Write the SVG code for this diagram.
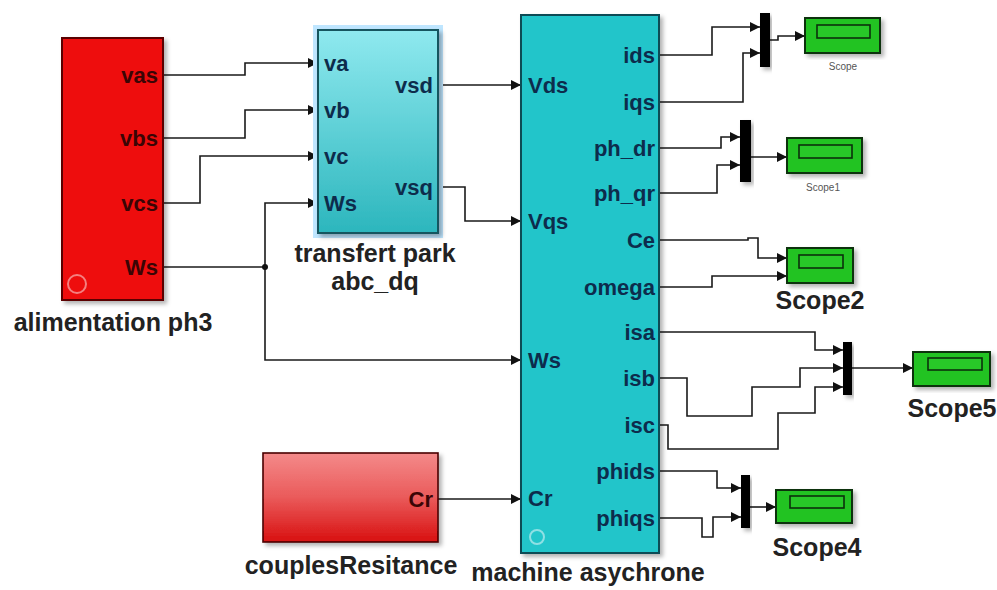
<svg xmlns="http://www.w3.org/2000/svg" width="997" height="590" viewBox="0 0 997 590">
<defs>
<style>
.w{fill:none;stroke:#1a1a1a;stroke-width:1.6;marker-end:url(#ar)}
.wn{fill:none;stroke:#1a1a1a;stroke-width:1.6}
.pl{font-family:"Liberation Sans",Arial,sans-serif;font-weight:bold;font-size:22px;fill:#0d2c4c}
.rl{font-family:"Liberation Sans",Arial,sans-serif;font-weight:bold;font-size:22px;fill:#3a0505}
.bl{font-family:"Liberation Sans",Arial,sans-serif;font-weight:bold;font-size:25px;fill:#222;text-anchor:middle}
.sl{font-family:"Liberation Sans",Arial,sans-serif;font-size:10px;fill:#555;text-anchor:middle}
.scope{fill:#22c322;stroke:#0c300c;stroke-width:2}
.scin{fill:#28c828;stroke:#0c300c;stroke-width:1.6}
.mux{fill:#000}
</style>
<marker id="ar" viewBox="0 0 10 10" refX="10" refY="5" markerWidth="10" markerHeight="10" markerUnits="userSpaceOnUse" orient="auto">
<path d="M0,0 L10,5 L0,10 z" fill="#111"/>
</marker>
<linearGradient id="gPark" x1="0" y1="0" x2="0" y2="1">
<stop offset="0" stop-color="#8fe9ef"/>
<stop offset="1" stop-color="#2cb6bd"/>
</linearGradient>
<linearGradient id="gCr" x1="0" y1="0" x2="0" y2="1">
<stop offset="0" stop-color="#f48a8a"/>
<stop offset="0.5" stop-color="#ea5a5a"/>
<stop offset="1" stop-color="#d81010"/>
</linearGradient>
<filter id="sh" x="-10%" y="-10%" width="130%" height="130%">
<feDropShadow dx="3" dy="3" stdDeviation="2" flood-color="#000" flood-opacity="0.3"/>
</filter>
</defs>
<rect width="997" height="590" fill="#fff"/>

<g id="connectors">
<path class="w" d="M163,75 H245 V63 H318"/>
<path class="w" d="M163,138 H245 V110 H318"/>
<path class="w" d="M163,203 H200 V156 H318"/>
<path class="wn" d="M163,267 H265"/>
<path class="w" d="M265,267 V203 H318"/>
<path class="w" d="M265,267 V360 H521"/>
<circle cx="265" cy="267" r="3" fill="#111"/>
<path class="w" d="M438,85 H521"/>
<path class="w" d="M438,187 H465 V221 H521"/>
<path class="w" d="M438,499 H521"/>
<path class="w" d="M659,55 H712 V27 H760"/>
<path class="w" d="M659,102 H743 V53 H760"/>
<path class="w" d="M770,40 H778 V36 H805"/>
<path class="w" d="M659,148 H721 V137 H740"/>
<path class="w" d="M659,193 H717 V165 H740"/>
<path class="w" d="M751,157 H787"/>
<path class="w" d="M659,240 H748 V238 H758 V258 H787"/>
<path class="w" d="M659,287 H712 V276 H787"/>
<path class="w" d="M659,332 H815 V350 H843"/>
<path class="w" d="M659,378 H687 V416 H752 V387 H800 V368 H843"/>
<path class="w" d="M659,425 H668 V449 H778 V413 H815 V387 H843"/>
<path class="w" d="M852,368 H913"/>
<path class="w" d="M659,471 H717 V488 H741"/>
<path class="w" d="M659,518 H702 V537 H713 V517 H741"/>
<path class="w" d="M750,507 H776"/>
</g>

<g id="alimentation">
<rect x="62" y="38" width="101" height="262" fill="#ee1010" stroke="#5a0000" stroke-width="2" filter="url(#sh)"/>
<circle cx="77" cy="284" r="9" fill="none" stroke="#f48080" stroke-width="2"/>
<text class="rl" x="158" y="83" text-anchor="end">vas</text>
<text class="rl" x="158" y="146" text-anchor="end">vbs</text>
<text class="rl" x="158" y="211" text-anchor="end">vcs</text>
<text class="rl" x="158" y="275" text-anchor="end">Ws</text>
<text class="bl" x="113" y="331">alimentation ph3</text>
</g>

<g id="park">
<rect x="315" y="27" width="126" height="209" fill="none" stroke="#bfe6ff" stroke-width="4"/>
<rect x="318" y="30" width="120" height="203" fill="url(#gPark)" stroke="#17545e" stroke-width="2" filter="url(#sh)"/>
<text class="pl" x="324" y="71">va</text>
<text class="pl" x="324" y="118">vb</text>
<text class="pl" x="324" y="164">vc</text>
<text class="pl" x="324" y="211">Ws</text>
<text class="pl" x="433" y="93" text-anchor="end">vsd</text>
<text class="pl" x="433" y="195" text-anchor="end">vsq</text>
<text class="bl" x="375" y="262">transfert park</text>
<text class="bl" x="375" y="290">abc_dq</text>
</g>

<g id="machine">
<rect x="521" y="15" width="138" height="538" fill="#20c5ca" stroke="#0f4c55" stroke-width="2" filter="url(#sh)"/>
<circle cx="537" cy="537" r="7" fill="none" stroke="#8fe0e4" stroke-width="2"/>
<text class="pl" x="528" y="93">Vds</text>
<text class="pl" x="528" y="229">Vqs</text>
<text class="pl" x="528" y="368">Ws</text>
<text class="pl" x="528" y="506">Cr</text>
<text class="pl" x="655" y="63" text-anchor="end">ids</text>
<text class="pl" x="655" y="110" text-anchor="end">iqs</text>
<text class="pl" x="655" y="156" text-anchor="end">ph_dr</text>
<text class="pl" x="655" y="201" text-anchor="end">ph_qr</text>
<text class="pl" x="655" y="248" text-anchor="end">Ce</text>
<text class="pl" x="655" y="295" text-anchor="end">omega</text>
<text class="pl" x="655" y="340" text-anchor="end">isa</text>
<text class="pl" x="655" y="386" text-anchor="end">isb</text>
<text class="pl" x="655" y="433" text-anchor="end">isc</text>
<text class="pl" x="655" y="479" text-anchor="end">phids</text>
<text class="pl" x="655" y="526" text-anchor="end">phiqs</text>
<text class="bl" x="588" y="581">machine asychrone</text>
</g>

<g id="couples">
<rect x="263" y="453" width="175" height="89" fill="url(#gCr)" stroke="#4a0000" stroke-width="1.6" filter="url(#sh)"/>
<text class="rl" x="433" y="507" text-anchor="end">Cr</text>
<text class="bl" x="351" y="574">couplesResitance</text>
</g>

<g id="mux1"><rect class="mux" x="760" y="13" width="10" height="54" filter="url(#sh)"/></g>
<g id="mux2"><rect class="mux" x="740" y="120" width="11" height="62" filter="url(#sh)"/></g>
<g id="mux3"><rect class="mux" x="843" y="342" width="9" height="53" filter="url(#sh)"/></g>
<g id="mux4"><rect class="mux" x="741" y="475" width="9" height="53" filter="url(#sh)"/></g>

<g id="scope">
<rect class="scope" x="805" y="18" width="75" height="35" filter="url(#sh)"/>
<rect class="scin" x="817" y="25" width="53" height="13"/>
<text class="sl" x="843" y="70">Scope</text>
</g>
<g id="scope1">
<rect class="scope" x="787" y="138" width="75" height="35" filter="url(#sh)"/>
<rect class="scin" x="799" y="145" width="53" height="13"/>
<text class="sl" x="823" y="191">Scope1</text>
</g>
<g id="scope2">
<rect class="scope" x="787" y="248" width="66" height="35" filter="url(#sh)"/>
<rect class="scin" x="799" y="255" width="44" height="13"/>
<text class="bl" x="820" y="309">Scope2</text>
</g>
<g id="scope5">
<rect class="scope" x="913" y="352" width="77" height="34" filter="url(#sh)"/>
<rect class="scin" x="928" y="358" width="54" height="12"/>
<text class="bl" x="952" y="417">Scope5</text>
</g>
<g id="scope4">
<rect class="scope" x="776" y="490" width="76" height="33" filter="url(#sh)"/>
<rect class="scin" x="790" y="496" width="54" height="12"/>
<text class="bl" x="817" y="556">Scope4</text>
</g>
</svg>
